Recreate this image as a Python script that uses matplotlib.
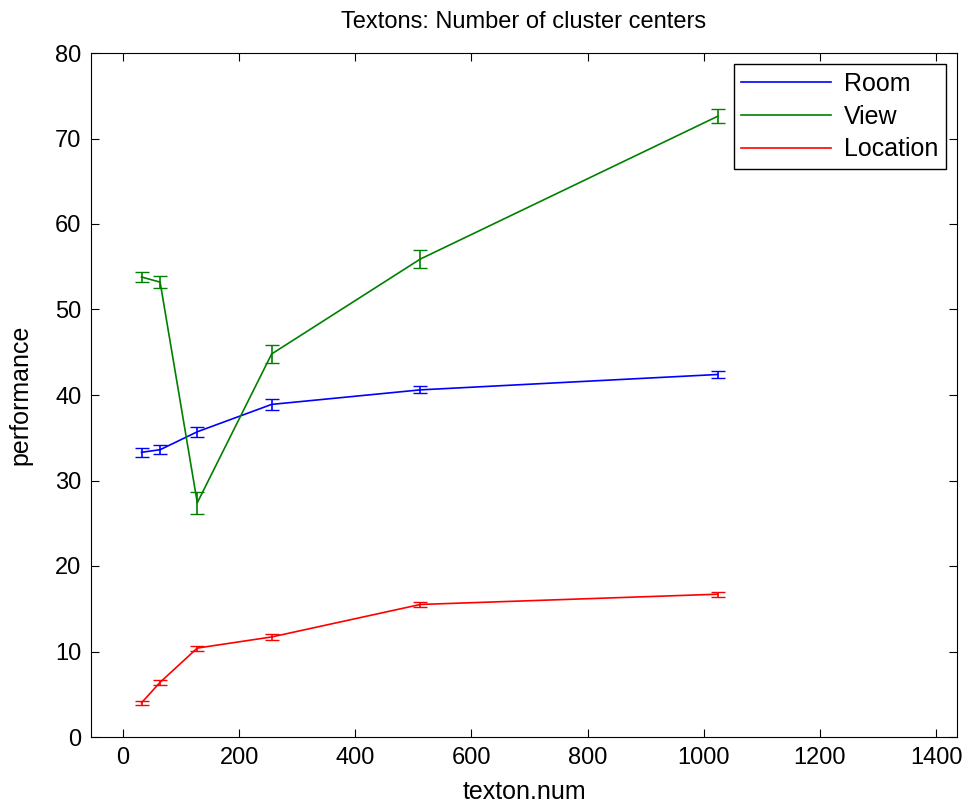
import matplotlib
matplotlib.use("Agg")
import matplotlib.pyplot as plt

plt.rcParams['font.family'] = ['Liberation Sans', 'DejaVu Sans']

# Datos
texton_num = [32, 64, 128, 256, 512, 1024]

room = [33.3, 33.6, 35.7, 38.9, 40.6, 42.4]
room_err = [0.5, 0.5, 0.6, 0.6, 0.4, 0.4]

view = [53.8, 53.2, 27.4, 44.8, 55.9, 72.6]
view_err = [0.6, 0.7, 1.3, 1.0, 1.1, 0.8]

location = [4.0, 6.4, 10.4, 11.7, 15.5, 16.7]
location_err = [0.2, 0.3, 0.3, 0.3, 0.3, 0.3]

fig = plt.figure(figsize=(9.71, 8.11), dpi=100)
ax = fig.add_axes([91/971, 1-737/811, (957-91)/971, (737-53)/811])

ax.errorbar(texton_num, room, yerr=room_err, color='blue', lw=1.2, capsize=5, label='Room')
ax.errorbar(texton_num, view, yerr=view_err, color='#008000', lw=1.2, capsize=5, label='View')
ax.errorbar(texton_num, location, yerr=location_err, color='red', lw=1.2, capsize=5, label='Location')

ax.set_xlim(-55, 1436)
ax.set_ylim(0, 80)
ax.set_xticks(range(0, 1401, 200))
ax.set_yticks(range(0, 81, 10))
ax.tick_params(direction='in', top=True, right=True, labelsize=17, length=6, pad=7)
ax.set_title("Textons: Number of cluster centers", fontsize=17, pad=18)
ax.set_xlabel("texton.num", fontsize=18, labelpad=8)
ax.set_ylabel("performance", fontsize=18, labelpad=16)

handles, labels = ax.get_legend_handles_labels()
handles = [h[0] for h in handles]
ax.legend(handles, labels, loc='upper right', fontsize=18, fancybox=False,
          edgecolor='black', framealpha=1, handlelength=3.6, borderaxespad=0.45,
          labelspacing=0.35, borderpad=0.3, handletextpad=0.5)

fig.savefig("out.png", dpi=100)
